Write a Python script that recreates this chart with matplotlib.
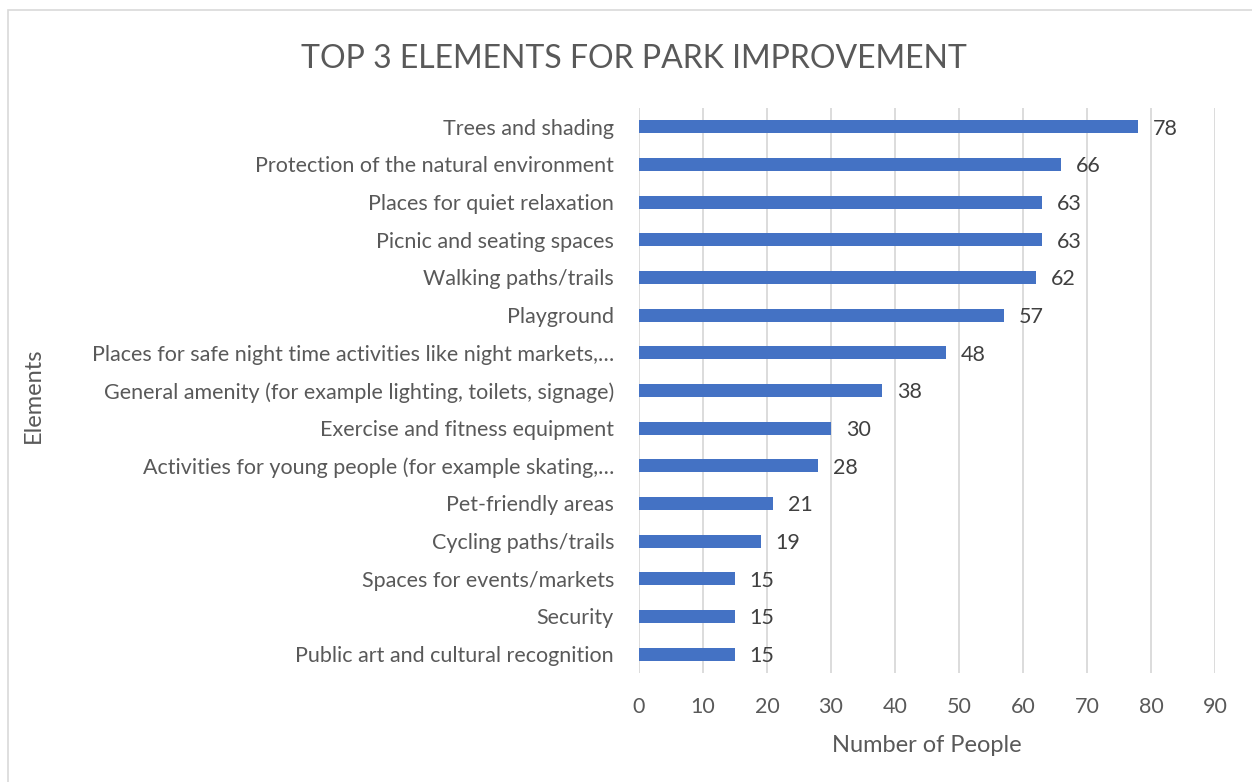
import matplotlib.pyplot as plt
from matplotlib.patches import Rectangle

# --- data (top to bottom as shown) ---
elements = [
    "Trees and shading",
    "Protection of the natural environment",
    "Places for quiet relaxation",
    "Picnic and seating spaces",
    "Walking paths/trails",
    "Playground",
    "Places for safe night time activities like night markets,\u2026",
    "General amenity (for example lighting, toilets, signage)",
    "Exercise and fitness equipment",
    "Activities for young people (for example skating,\u2026",
    "Pet-friendly areas",
    "Cycling paths/trails",
    "Spaces for events/markets",
    "Security",
    "Public art and cultural recognition",
]
people = [78, 66, 63, 63, 62, 57, 48, 38, 30, 28, 21, 19, 15, 15, 15]
x_ticks = [0, 10, 20, 30, 40, 50, 60, 70, 80, 90]

plt.rcParams['font.family'] = ['Lato', 'DejaVu Sans']
text_col = "#595959"

fig = plt.figure(figsize=(12.52, 7.82), dpi=100)
ax = fig.add_axes([0.5104, 0.1394, 0.4600, 0.7225])

y = list(range(len(elements)))
ax.barh(y, people, height=0.35, color="#4472C4", zorder=3)
ax.set_ylim(len(elements) - 0.5, -0.5)
ax.set_xlim(0, 90)
ax.set_xticks(x_ticks)
ax.set_yticks(y)
ax.set_yticklabels(elements)

for yi, v in zip(y, people):
    ax.text(v + 2.3, yi, str(v), va="center_baseline", ha="left", fontsize=15.5, color="#404040")

ax.grid(axis="x", color="#D9D9D9", linewidth=1.3, zorder=0)
for s in ax.spines.values():
    s.set_visible(False)
ax.tick_params(axis="both", length=0, labelsize=15.5, labelcolor=text_col)
ax.tick_params(axis="y", pad=18)
ax.tick_params(axis="x", pad=17)

ax.set_xlabel("Number of People", fontsize=17, color=text_col, labelpad=13)
fig.text(0.0265, 0.495, "Elements", rotation=90, ha="center", va="center",
         fontsize=17, color=text_col)
fig.text(0.506, 0.925, "TOP 3 ELEMENTS FOR PARK IMPROVEMENT", ha="center", va="center",
         fontsize=23, color=text_col)

# chart border (extends past the right/bottom edges like the source crop)
fig.patches.append(Rectangle((8 / 1252, -0.01), 1.02, 1 - 10 / 782 + 0.01,
                             transform=fig.transFigure, fill=False,
                             edgecolor="#D9D9D9", linewidth=1.2))

fig.savefig("out.png", dpi=100)
